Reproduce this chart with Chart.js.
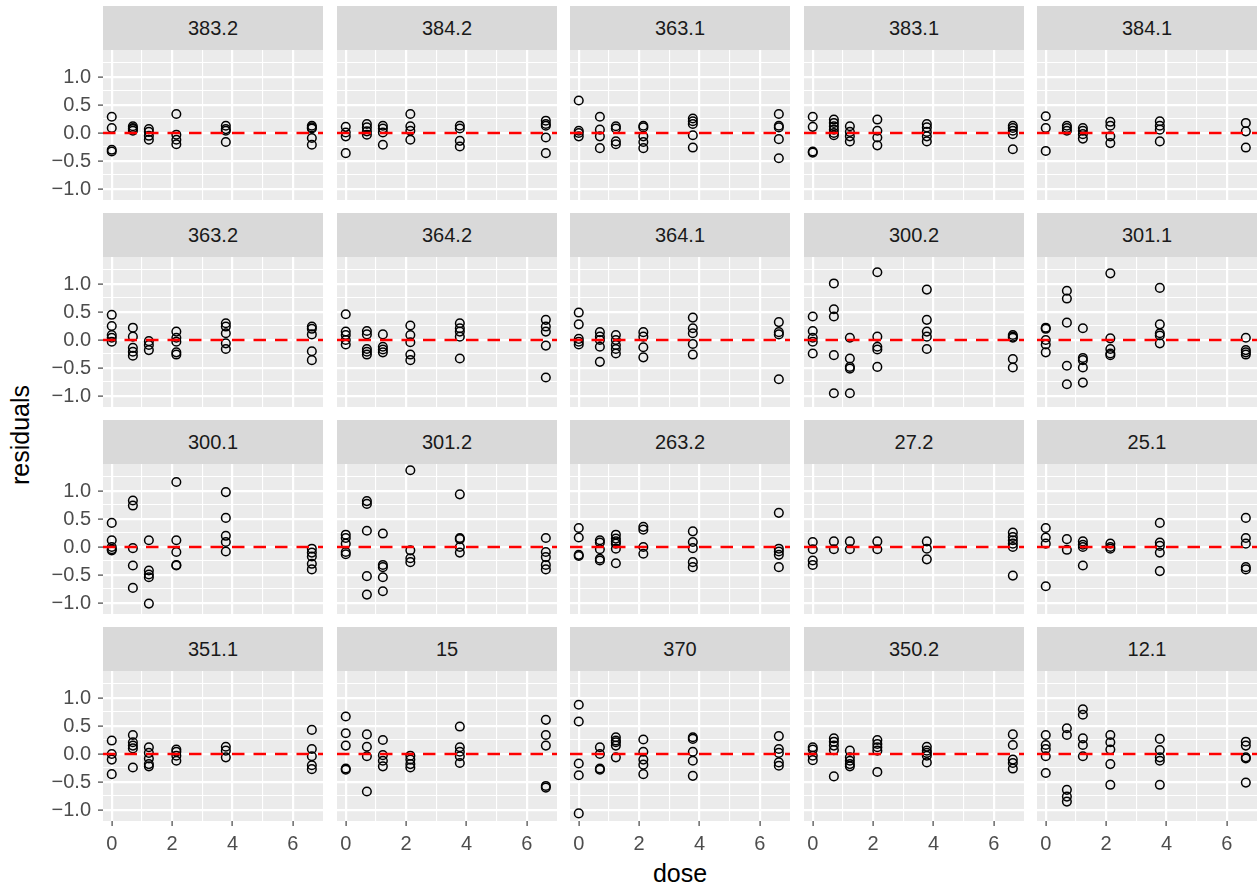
<!DOCTYPE html>
<html lang='en'>
  <head>
    <title>residuals vs dose</title>
    <meta charset='UTF-8'>
    <script src='https://cdn.jsdelivr.net/npm/chart.js@4.4.1/dist/chart.umd.min.js'></script>
    <style>
      body { margin: 0; background: #fff; width: 1257px; height: 886px; overflow: hidden; position: relative; font-family: 'Liberation Sans', Arial, sans-serif; }
      canvas { position: absolute; }
      .strip { position: absolute; background: #D9D9D9; color: #1A1A1A; font-size: 20px; text-align: center; height: 44px; line-height: 44px; width: 220px; }
      .title { position: absolute; color: #000; font-size: 25px; line-height: 30px; }
    </style>
  </head>
  <body>
    <div class='title' style='left:103px; width:1154px; top:858px; text-align:center;'>dose</div>
    <div class='title' style='left:-40px; top:420px; width:120px; text-align:center; transform:rotate(-90deg);'>residuals</div>
    <script>
      // dose levels (x)
      let doses = [0, 0.70, 1.23, 2.14, 3.78, 6.63];

      // residuals per panel, one inner list per dose level
      let p383_2 = [[0.29, 0.09, -0.30, -0.33], [0.12, 0.09, 0.07, 0.04], [0.07, 0.02, -0.05, -0.12], [0.34, -0.03, -0.12, -0.20], [0.13, 0.07, 0.04, -0.16], [0.13, 0.10, 0.08, -0.09, -0.21]];
      let p384_2 = [[0.11, 0.01, -0.06, -0.36], [0.16, 0.10, 0.03, -0.03], [0.13, 0.08, 0.01, -0.21], [0.34, 0.12, 0.04, -0.12], [0.13, 0.08, -0.14, -0.24], [0.22, 0.16, 0.13, -0.08, -0.36]];
      let p363_1 = [[0.58, 0.04, 0.0, -0.06], [0.29, 0.06, -0.06, -0.27], [0.12, 0.08, -0.15, -0.20], [0.13, 0.10, -0.06, -0.16, -0.27], [0.26, 0.21, 0.16, -0.04, -0.26], [0.34, 0.13, 0.10, -0.11, -0.45]];
      let p383_1 = [[0.29, 0.11, -0.33, -0.35], [0.24, 0.18, 0.12, 0.06, 0.0, -0.04], [0.12, 0.02, -0.06, -0.15], [0.24, 0.04, -0.08, -0.22], [0.16, 0.10, 0.02, -0.06, -0.15], [0.13, 0.09, 0.04, -0.02, -0.29]];
      let p384_1 = [[0.30, 0.09, -0.32], [0.13, 0.09, 0.04], [0.09, 0.04, -0.02, -0.10], [0.20, 0.13, -0.06, -0.18], [0.21, 0.13, 0.06, -0.15], [0.18, 0.03, -0.26]];
      let p363_2 = [[0.45, 0.25, 0.09, 0.04, -0.03], [0.22, 0.06, -0.14, -0.21, -0.28], [-0.02, -0.09, -0.18], [0.15, 0.04, -0.03, -0.22, -0.26], [0.30, 0.24, 0.12, -0.06, -0.16], [0.24, 0.20, 0.10, -0.20, -0.36]];
      let p364_2 = [[0.46, 0.15, 0.09, 0.0, -0.08], [0.16, 0.10, -0.16, -0.21, -0.26], [0.10, -0.12, -0.17, -0.22], [0.26, 0.09, -0.04, -0.26, -0.36], [0.30, 0.21, 0.15, 0.06, -0.33], [0.36, 0.24, 0.15, -0.10, -0.67]];
      let p364_1 = [[0.49, 0.28, 0.02, -0.03, -0.08], [0.14, 0.06, 0.0, -0.12, -0.39], [0.09, 0.0, -0.09, -0.16, -0.24], [0.14, 0.06, -0.13, -0.31], [0.40, 0.21, 0.12, -0.07, -0.26], [0.32, 0.14, 0.10, -0.70]];
      let p300_2 = [[0.42, 0.16, 0.04, -0.03, -0.24], [1.01, 0.55, 0.42, -0.27, -0.95], [0.04, -0.33, -0.48, -0.51, -0.95], [1.21, 0.06, -0.12, -0.17, -0.48], [0.90, 0.36, 0.15, 0.06, -0.16], [0.09, 0.06, 0.04, -0.34, -0.49]];
      let p301_1 = [[0.22, 0.20, 0.0, -0.08, -0.22], [0.88, 0.74, 0.31, -0.46, -0.79], [0.21, -0.32, -0.36, -0.49, -0.76], [1.19, 0.03, -0.16, -0.24, -0.27], [0.93, 0.28, 0.12, 0.08, -0.06], [0.04, -0.18, -0.22, -0.26]];
      let p300_1 = [[0.43, 0.12, 0.0, -0.04, -0.06], [0.83, 0.74, -0.02, -0.33, -0.73], [0.12, -0.42, -0.49, -0.54, -1.01], [1.16, 0.12, -0.09, -0.32, -0.33], [0.98, 0.52, 0.20, 0.09, -0.08], [-0.03, -0.10, -0.17, -0.30, -0.40]];
      let p301_2 = [[0.22, 0.16, 0.06, -0.09, -0.13], [0.82, 0.77, 0.29, -0.52, -0.85], [0.24, -0.32, -0.36, -0.54, -0.79], [1.37, -0.06, -0.20, -0.27], [0.94, 0.16, 0.14, 0.0, -0.10], [0.16, -0.09, -0.18, -0.32, -0.40]];
      let p263_2 = [[0.34, 0.17, -0.14, -0.16], [0.12, 0.08, -0.04, -0.21, -0.24], [0.22, 0.15, 0.10, 0.06, -0.03, -0.29], [0.36, 0.31, 0.0, -0.12], [0.28, 0.09, -0.02, -0.27, -0.36], [0.61, -0.03, -0.08, -0.14, -0.36]];
      let p27_2  = [[0.09, -0.04, -0.24, -0.32], [0.10, -0.04], [0.10, -0.04], [0.10, -0.04], [0.10, -0.03, -0.22], [0.26, 0.18, 0.12, 0.06, 0.0, -0.51]];
      let p25_1  = [[0.34, 0.17, 0.06, -0.70], [0.14, -0.05], [0.10, 0.04, 0.0, -0.33], [0.06, 0.0, -0.03], [0.43, 0.08, 0.02, -0.10, -0.43], [0.52, 0.16, 0.06, -0.36, -0.40]];
      let p351_1 = [[0.24, 0.0, -0.10, -0.36], [0.34, 0.21, 0.15, 0.10, -0.24], [0.12, 0.02, -0.08, -0.18, -0.22], [0.08, 0.04, -0.03, -0.12], [0.13, 0.06, -0.06], [0.43, 0.09, -0.04, -0.20, -0.27]];
      let p15    = [[0.67, 0.37, 0.15, -0.26, -0.28], [0.35, 0.13, -0.04, -0.67], [0.25, -0.02, -0.12, -0.22], [-0.03, -0.10, -0.18, -0.24], [0.49, 0.12, 0.04, -0.04, -0.16], [0.61, 0.34, 0.15, -0.57, -0.60]];
      let p370   = [[0.88, 0.58, -0.17, -0.38, -1.06], [0.12, 0.0, -0.26, -0.28], [0.30, 0.24, 0.21, 0.15, -0.06], [0.26, 0.04, -0.10, -0.19, -0.36], [0.30, 0.27, 0.04, -0.12, -0.39], [0.32, 0.09, 0.02, -0.15, -0.21]];
      let p350_2 = [[0.12, 0.08, -0.03, -0.11], [0.28, 0.22, 0.15, 0.07, -0.40], [0.06, -0.06, -0.12, -0.18, -0.22], [0.25, 0.18, 0.12, 0.06, -0.32], [0.13, 0.06, 0.02, -0.03, -0.15], [0.35, 0.16, -0.10, -0.16, -0.26]];
      let p12_1  = [[0.34, 0.16, 0.09, -0.04, -0.34], [0.46, 0.34, -0.64, -0.76, -0.85], [0.80, 0.70, 0.28, 0.16, -0.04], [0.34, 0.21, 0.08, -0.18, -0.55], [0.27, 0.07, -0.06, -0.12, -0.55], [0.22, 0.15, -0.06, -0.08, -0.51]];

      let panelNames = ['383.2', '384.2', '363.1', '383.1', '384.1',
                        '363.2', '364.2', '364.1', '300.2', '301.1',
                        '300.1', '301.2', '263.2', '27.2', '25.1',
                        '351.1', '15', '370', '350.2', '12.1'];
      let panelData = [p383_2, p384_2, p363_1, p383_1, p384_1,
                       p363_2, p364_2, p364_1, p300_2, p301_1,
                       p300_1, p301_2, p263_2, p27_2, p25_1,
                       p351_1, p15, p370, p350_2, p12_1];

      // axis ticks / grid
      let xMajor = [0, 2, 4, 6];
      let xMinor = [1, 3, 5];
      let yMajor = [-1, -0.5, 0, 0.5, 1];
      let yMinor = [-0.75, -0.25, 0.25, 0.75, 1.25];

      let xMin = -0.29, xMax = 7.0;
      let yMin = -1.196, yMax = 1.482;

      let tickFont = {family: "'Liberation Sans', Arial, sans-serif", size: 20};

      let isMajor = (v, list) => list.some(m => Math.abs(m - v) < 1e-9);
      let allTicks = (a, b) => a.concat(b).sort((p, q) => p - q).map(v => ({value: v}));

      // scale boxes of fixed size, no extra label padding
      function fixBox(s, w, h) {
        if (w !== null) s.width = w;
        if (h !== null) s.height = h;
        s.paddingTop = s.paddingBottom = s.paddingLeft = s.paddingRight = 0;
      }

      // panel background only under the plot area
      let panelBg = {
        id: 'panelBg',
        beforeDraw(chart) {
          let a = chart.chartArea, c = chart.ctx;
          c.save();
          c.fillStyle = '#EBEBEB';
          c.fillRect(a.left, a.top, a.right - a.left, a.bottom - a.top);
          c.restore();
        }
      };

      function makePanel(i) {
        let row = Math.floor(i / 5), col = i % 5;
        let left = col == 0, bottom = row == 3;
        let px = Math.round(103 + col * 233.5), py = 50 + row * 207;
        let axisW = 63, axisH = 39;

        // strip label
        let strip = document.createElement('div');
        strip.className = 'strip';
        strip.style.left = px + 'px';
        strip.style.top = (py - 44) + 'px';
        strip.textContent = panelNames[i];
        document.body.appendChild(strip);

        let canvas = document.createElement('canvas');
        canvas.width = 220 + (left ? axisW : 0);
        canvas.height = 150 + (bottom ? axisH : 0);
        canvas.style.left = (px - (left ? axisW : 0)) + 'px';
        canvas.style.top = py + 'px';
        document.body.appendChild(canvas);

        let points = [];
        panelData[i].forEach((vals, d) => vals.forEach(v => points.push({x: doses[d], y: v})));

        new Chart(canvas.getContext('2d'), {
          type: 'scatter',
          data: {
            datasets: [{
              type: 'line',
              data: [{x: xMin, y: 0}, {x: xMax, y: 0}],
              borderColor: '#FF0000',
              borderWidth: 2.4,
              borderDash: [12.5, 9],
              pointRadius: 0,
              order: 0,
            }, {
              data: points,
              pointRadius: 4.3,
              pointBorderWidth: 1.5,
              pointBorderColor: '#000',
              pointBackgroundColor: 'rgba(0,0,0,0)',
              order: 1,
            }]
          },
          options: {
            responsive: false,
            animation: false,
            events: [],
            layout: {padding: 0, autoPadding: false},
            plugins: {legend: {display: false}, tooltip: {enabled: false}},
            scales: {
              x: {
                type: 'linear', min: xMin, max: xMax,
                afterBuildTicks: s => { s.ticks = allTicks(xMajor, xMinor); },
                afterFit: s => fixBox(s, null, bottom ? axisH : 0),
                border: {display: false},
                grid: {
                  color: '#FFFFFF',
                  lineWidth: ctx => isMajor(ctx.tick.value, xMajor) ? 2.2 : 1.1,
                  drawTicks: bottom,
                  tickLength: 5,
                  tickWidth: 1.1,
                  tickColor: ctx => isMajor(ctx.tick.value, xMajor) ? '#333333' : 'rgba(0,0,0,0)',
                },
                ticks: {
                  display: bottom,
                  autoSkip: false, maxRotation: 0, padding: 6,
                  color: '#4D4D4D', font: tickFont,
                  callback: v => isMajor(v, xMajor) ? String(v) : '',
                },
              },
              y: {
                type: 'linear', min: yMin, max: yMax,
                afterBuildTicks: s => { s.ticks = allTicks(yMajor, yMinor); },
                afterFit: s => fixBox(s, left ? axisW : 0, null),
                border: {display: false},
                grid: {
                  color: '#FFFFFF',
                  lineWidth: ctx => isMajor(ctx.tick.value, yMajor) ? 2.2 : 1.1,
                  drawTicks: left,
                  tickLength: 5,
                  tickWidth: 1.1,
                  tickColor: ctx => isMajor(ctx.tick.value, yMajor) ? '#333333' : 'rgba(0,0,0,0)',
                },
                ticks: {
                  display: left,
                  autoSkip: false, padding: 7,
                  color: '#4D4D4D', font: tickFont,
                  callback: v => isMajor(v, yMajor) ? v.toFixed(1).replace('-', '\u2212') : '',
                },
              },
            },
          },
          plugins: [panelBg],
        });
      }

      for (let i = 0; i < panelData.length; i++) makePanel(i);
    </script>
  </body>
</html>
